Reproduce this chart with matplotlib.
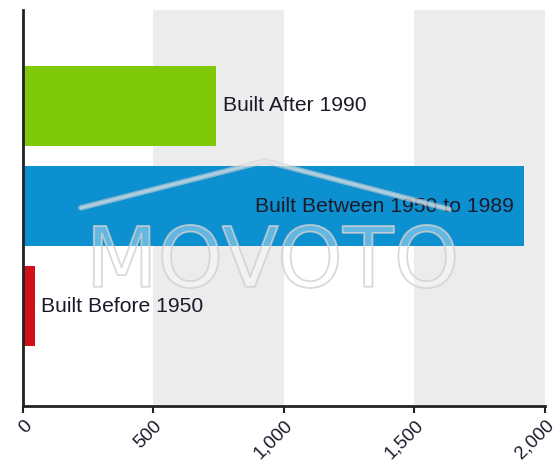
import matplotlib.pyplot as plt
import matplotlib.patheffects as pe

categories = ['Built Before 1950', 'Built Between 1950 to 1989', 'Built After 1990']
values = [45, 1920, 740]
colors = ['#d0101a', '#0d90d0', '#80c80a']
xticks = [0, 500, 1000, 1500, 2000]
xtick_labels = ['0', '500', '1,000', '1,500', '2,000']

plt.rcParams['font.family'] = ['Liberation Sans', 'DejaVu Sans']

fig = plt.figure(figsize=(5.58, 4.67), dpi=100)
ax = fig.add_axes([0.0412, 0.1306, 0.9355, 0.848])

# alternating background bands
ax.axvspan(500, 1000, color='#ececec', zorder=0, lw=0)
ax.axvspan(1500, 2000, color='#ececec', zorder=0, lw=0)

ypos = list(range(len(categories)))
ax.barh(ypos, values, height=0.8, color=colors, zorder=2)

# bar labels
for i, (cat, v) in enumerate(zip(categories, values)):
    if v > 1500:
        ax.text(v - 40, i, cat, ha='right', va='center', fontsize=15.2, color='#1a1a2a', zorder=4)
    else:
        ax.text(v + 25, i, cat, ha='left', va='center', fontsize=15.2, color='#1a1a2a', zorder=4)

ax.set_xlim(0, 2000)
ax.set_ylim(-1, 2.96)
ax.set_yticks([])
ax.set_xticks(xticks)
ax.set_xticklabels(xtick_labels, rotation=45, ha='right', rotation_mode='anchor',
                   fontsize=13.5, color='#1a1a2a')
ax.tick_params(axis='x', length=5, width=1.5, color='#222222', pad=3)

for s in ['top', 'right']:
    ax.spines[s].set_visible(False)
for s in ['left', 'bottom']:
    ax.spines[s].set_linewidth(2)
    ax.spines[s].set_color('#222222')
    ax.spines[s].set_zorder(5)

# MOVOTO watermark
wm = fig.text(0.488, 0.386, 'MOVOTO', fontsize=60, ha='center', va='baseline',
              family='DejaVu Sans', color=(1, 1, 1, 0.2), zorder=10)
wm.set_path_effects([pe.Stroke(linewidth=1.3, foreground=(0.8, 0.8, 0.8, 0.8)), pe.Normal()])
roof_x = [0.145, 0.475, 0.805]
roof_y = [0.555, 0.655, 0.552]
fig.add_artist(plt.Line2D(roof_x, roof_y, transform=fig.transFigure, color=(0.82, 0.82, 0.82, 0.6),
                          lw=4, zorder=9, solid_capstyle='round'))
fig.add_artist(plt.Line2D(roof_x, roof_y, transform=fig.transFigure, color=(1, 1, 1, 0.35),
                          lw=2, zorder=9, solid_capstyle='round'))

fig.savefig('out.png', dpi=100)
